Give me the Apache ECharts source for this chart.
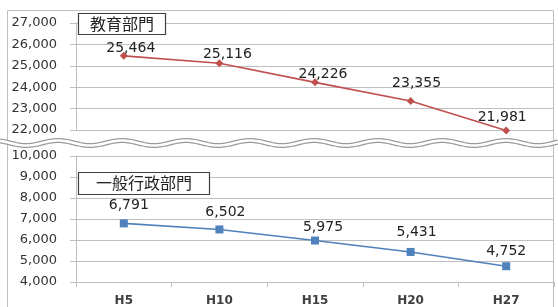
<!DOCTYPE html>
<html>
<head>
<meta charset="utf-8">
<script src="https://cdn.jsdelivr.net/npm/echarts@6/dist/echarts.min.js"></script>
<style>
    html, body { margin: 0; padding: 0; background: #fff; }
    #main { width: 558px; height: 307px; }
</style>
</head>
<body>
<div id="main"></div>
<script>
// 年度（カテゴリ）
var years = ['H5', 'H10', 'H15', 'H20', 'H27'];

// 教育部門・一般行政部門の人数
var eduValues = [25464, 25116, 24226, 23355, 21981];
var adminValues = [6791, 6502, 5975, 5431, 4752];

// 軸の目盛り
var upperTicks = [22000, 23000, 24000, 25000, 26000, 27000];
var lowerTicks = [4000, 5000, 6000, 7000, 8000, 9000, 10000];

// ラベルの微調整（見た目のみ）
var eduLabelShift = [[7, 3], [8, 2], [8, 3], [6, -7], [-4, -2]];
var adminLabelShift = [[5, -7], [6, -6], [8, -2], [6, -9], [0, -4]];

var gridColor = '#bfbfbf';
var numFont = '"DejaVu Sans", sans-serif';
var jpFont = '"Noto Sans CJK JP", sans-serif';

function fmt(v) {
    return Number(v).toLocaleString('en-US');
}

function buildData(values, shifts) {
    return values.map(function(v, i) {
        return {
            value: v,
            label: { offset: shifts[i] }
        };
    });
}

function yAxisOf(gridIndex, ticks) {
    return {
        type: 'value',
        gridIndex: gridIndex,
        min: ticks[0],
        max: ticks[ticks.length - 1],
        interval: ticks[1] - ticks[0],
        axisLine: { show: true, lineStyle: { color: gridColor } },
        axisTick: { show: true, length: 6, lineStyle: { color: gridColor } },
        splitLine: { show: true, lineStyle: { color: gridColor, width: 1 } },
        axisLabel: {
            margin: 19,
            color: '#333',
            fontSize: 13,
            fontFamily: numFont,
            formatter: fmt
        }
    };
}

// 波線（省略記号）
function wavePoints(yc) {
    var pts = [];
    for (var x = 0; x <= 558; x += 2) {
        pts.push([x, yc + 2.5 * Math.sin((x - 10) / 64 * 2 * Math.PI)]);
    }
    return pts;
}

// 系列名の枠（16px の全角文字として中央に置く）
function labelBox(x, y, w, h, text) {
    var textW = text.length * 16;
    return [{
        type: 'rect',
        z: 100,
        shape: { x: x, y: y, width: w, height: h },
        style: { fill: '#fff', stroke: '#404040', lineWidth: 1.2 }
    }, {
        type: 'text',
        z: 101,
        left: x + (w - textW) / 2,
        top: y + (h - 17) / 2,
        style: {
            text: text,
            fill: '#222',
            font: '16px ' + jpFont
        }
    }];
}

var option = {
    animation: false,
    backgroundColor: '#fff',
    grid: [
        { left: 76, right: 4, top: 23, height: 107 },
        { left: 76, right: 4, top: 156, height: 129 }
    ],
    xAxis: [{
        type: 'category',
        gridIndex: 0,
        data: years,
        boundaryGap: true,
        axisLine: { show: false },
        axisTick: { show: false },
        axisLabel: { show: false }
    }, {
        type: 'category',
        gridIndex: 1,
        data: years,
        boundaryGap: true,
        axisLine: { show: true, lineStyle: { color: gridColor } },
        axisTick: { show: true, length: 5, lineStyle: { color: gridColor } },
        axisLabel: {
            margin: 13,
            color: '#404040',
            fontSize: 12,
            fontWeight: 'bold',
            fontFamily: numFont
        }
    }],
    yAxis: [yAxisOf(0, upperTicks), yAxisOf(1, lowerTicks)],
    series: [{
        name: '教育部門',
        type: 'line',
        xAxisIndex: 0,
        yAxisIndex: 0,
        clip: false,
        data: buildData(eduValues, eduLabelShift),
        symbol: 'diamond',
        symbolSize: 8,
        lineStyle: { color: '#c0504d', width: 1.6 },
        itemStyle: { color: '#c0504d' },
        label: {
            show: true,
            position: 'top',
            distance: 0,
            color: '#222',
            fontSize: 14,
            fontFamily: numFont,
            formatter: function(p) { return fmt(p.value); }
        }
    }, {
        name: '一般行政部門',
        type: 'line',
        xAxisIndex: 1,
        yAxisIndex: 1,
        clip: false,
        data: buildData(adminValues, adminLabelShift),
        symbol: 'rect',
        symbolSize: 8,
        lineStyle: { color: '#4f81bd', width: 1.6 },
        itemStyle: { color: '#4f81bd' },
        label: {
            show: true,
            position: 'top',
            distance: 0,
            color: '#222',
            fontSize: 14,
            fontFamily: numFont,
            formatter: function(p) { return fmt(p.value); }
        }
    }],
    graphic: [{
        // 外枠
        type: 'polyline',
        shape: { points: [[7.5, 310], [7.5, 10.5], [553.5, 10.5], [553.5, 310]] },
        style: { stroke: '#bfbfbf', lineWidth: 1, fill: null },
        z: 1
    }, {
        type: 'polyline',
        shape: { points: wavePoints(143) },
        style: { stroke: '#9a9a9a', lineWidth: 5, fill: null },
        z: 50
    }, {
        type: 'polyline',
        shape: { points: wavePoints(143) },
        style: { stroke: '#ffffff', lineWidth: 2.6, fill: null },
        z: 51
    }].concat(
        labelBox(78.5, 13.5, 87, 21, '教育部門'),
        labelBox(78.5, 172.5, 131, 22, '一般行政部門')
    )
};

var chart = echarts.init(document.getElementById('main'));
chart.setOption(option);
</script>
</body>
</html>
